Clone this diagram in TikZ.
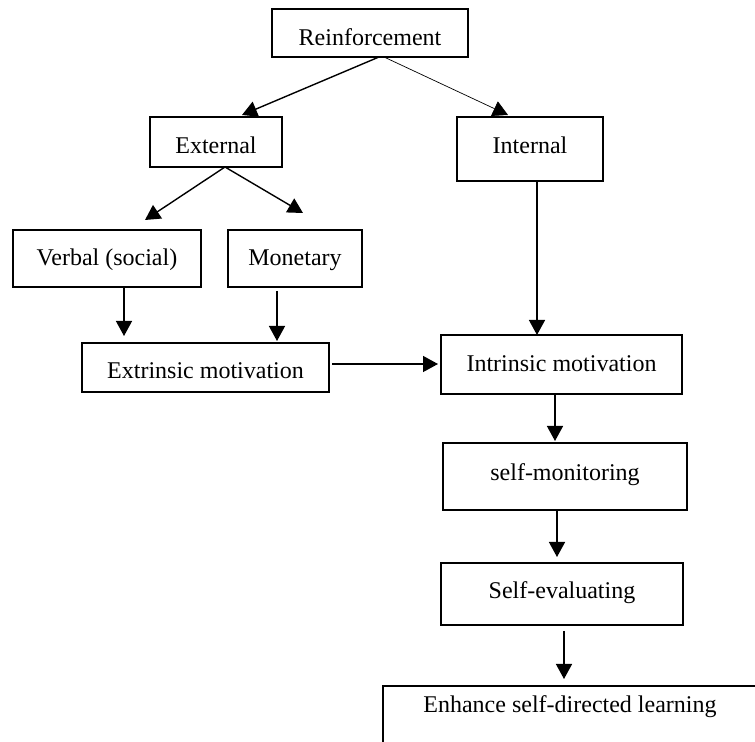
\documentclass[tikz,border=0pt]{standalone}
\usepackage{fontspec}
\setmainfont{Liberation Serif}
\usetikzlibrary{arrows.meta,calc}
\tikzset{
  boxnode/.style={draw, line width=0.75pt, inner sep=0pt, outer sep=0pt, anchor=north west, font=\fontsize{12}{14}\selectfont},
  plaintext/.style={inner sep=0pt, outer sep=0pt, font=\fontsize{12}{14}\selectfont},
  arr/.style={-{Triangle[width=8pt,length=7.5pt]}, line width=0.7pt},
  thinarr/.style={-{Triangle[width=8pt,length=7.5pt]}, line width=0.35pt}
}
\begin{document}
\begin{tikzpicture}[x=0.5pt,y=-0.5pt]
\useasboundingbox (0,0) rectangle (755,742);
\clip (0,0) rectangle (755,742);
\node[boxnode, minimum width=98pt, text height=18.5pt, text depth=5.5pt] (reinf) at (272,9) {Reinforcement};
\node[boxnode, minimum width=66pt, text height=18.5pt, text depth=6.5pt] (ext) at (150,117) {External};
\node[boxnode, minimum width=73pt, text height=18.5pt, text depth=13.5pt] (int) at (457,117) {Internal};
\node[boxnode, minimum width=94pt, text height=18pt, text depth=10.5pt] (verbal) at (13,230) {Verbal (social)};
\node[boxnode, minimum width=67pt, text height=18pt, text depth=10.5pt] (monet) at (228,230) {Monetary};
\node[boxnode, minimum width=123.5pt, text height=18pt, text depth=6.5pt] (extr) at (82,343) {Extrinsic motivation};
\node[boxnode, minimum width=120.5pt, text height=18.5pt, text depth=11pt] (intr) at (441,335) {Intrinsic motivation};
\node[boxnode, minimum width=122pt, text height=19pt, text depth=14.5pt] (smon) at (443,443) {self-monitoring};
\node[boxnode, minimum width=121pt, text height=18pt, text depth=13pt] (seval) at (441,563) {Self-evaluating};
\node[boxnode, minimum width=220pt, minimum height=60pt] (enhbox) at (383,686) {};
\node[plaintext, anchor=base] (enh) at (570,712) {Enhance self-directed learning};

\draw[arr] ($(reinf.south)+(9,0)$) -- ($(ext.north)+(26,-2)$);
\draw[thinarr] ($(reinf.south)+(14,0)$) -- ($(int.north)+(-22,-2)$);
\draw[arr] ($(ext.south)+(9,0)$) -- ($(verbal.north)+(38,-10)$);
\draw[arr] ($(ext.south)+(9,0)$) -- ($(monet.north)+(8,-17)$);
\draw[arr] ($(verbal.south)+(17,0)$) -- ($(extr.north)+(-81.5,-7)$);
\draw[arr] ($(monet.south)+(-18,4)$) -- ($(extr.north)+(71.5,-2)$);
\draw[arr] ($(extr.east)+(3,-3.5)$) -- ($(intr.west)+(-3,-0.5)$);
\draw[arr] ($(int.south)+(7,0)$) -- ($(intr.north)+(-24.5,0)$);
\draw[arr] ($(intr.south)+(-6.5,0)$) -- ($(smon.north)+(-10,-2)$);
\draw[arr] ($(smon.south)+(-8,0)$) -- ($(seval.north)+(-5,-6)$);
\draw[arr] ($(seval.south)+(2,6)$) -- ($(enhbox.north west)+(181,-7)$);
\end{tikzpicture}
\end{document}
